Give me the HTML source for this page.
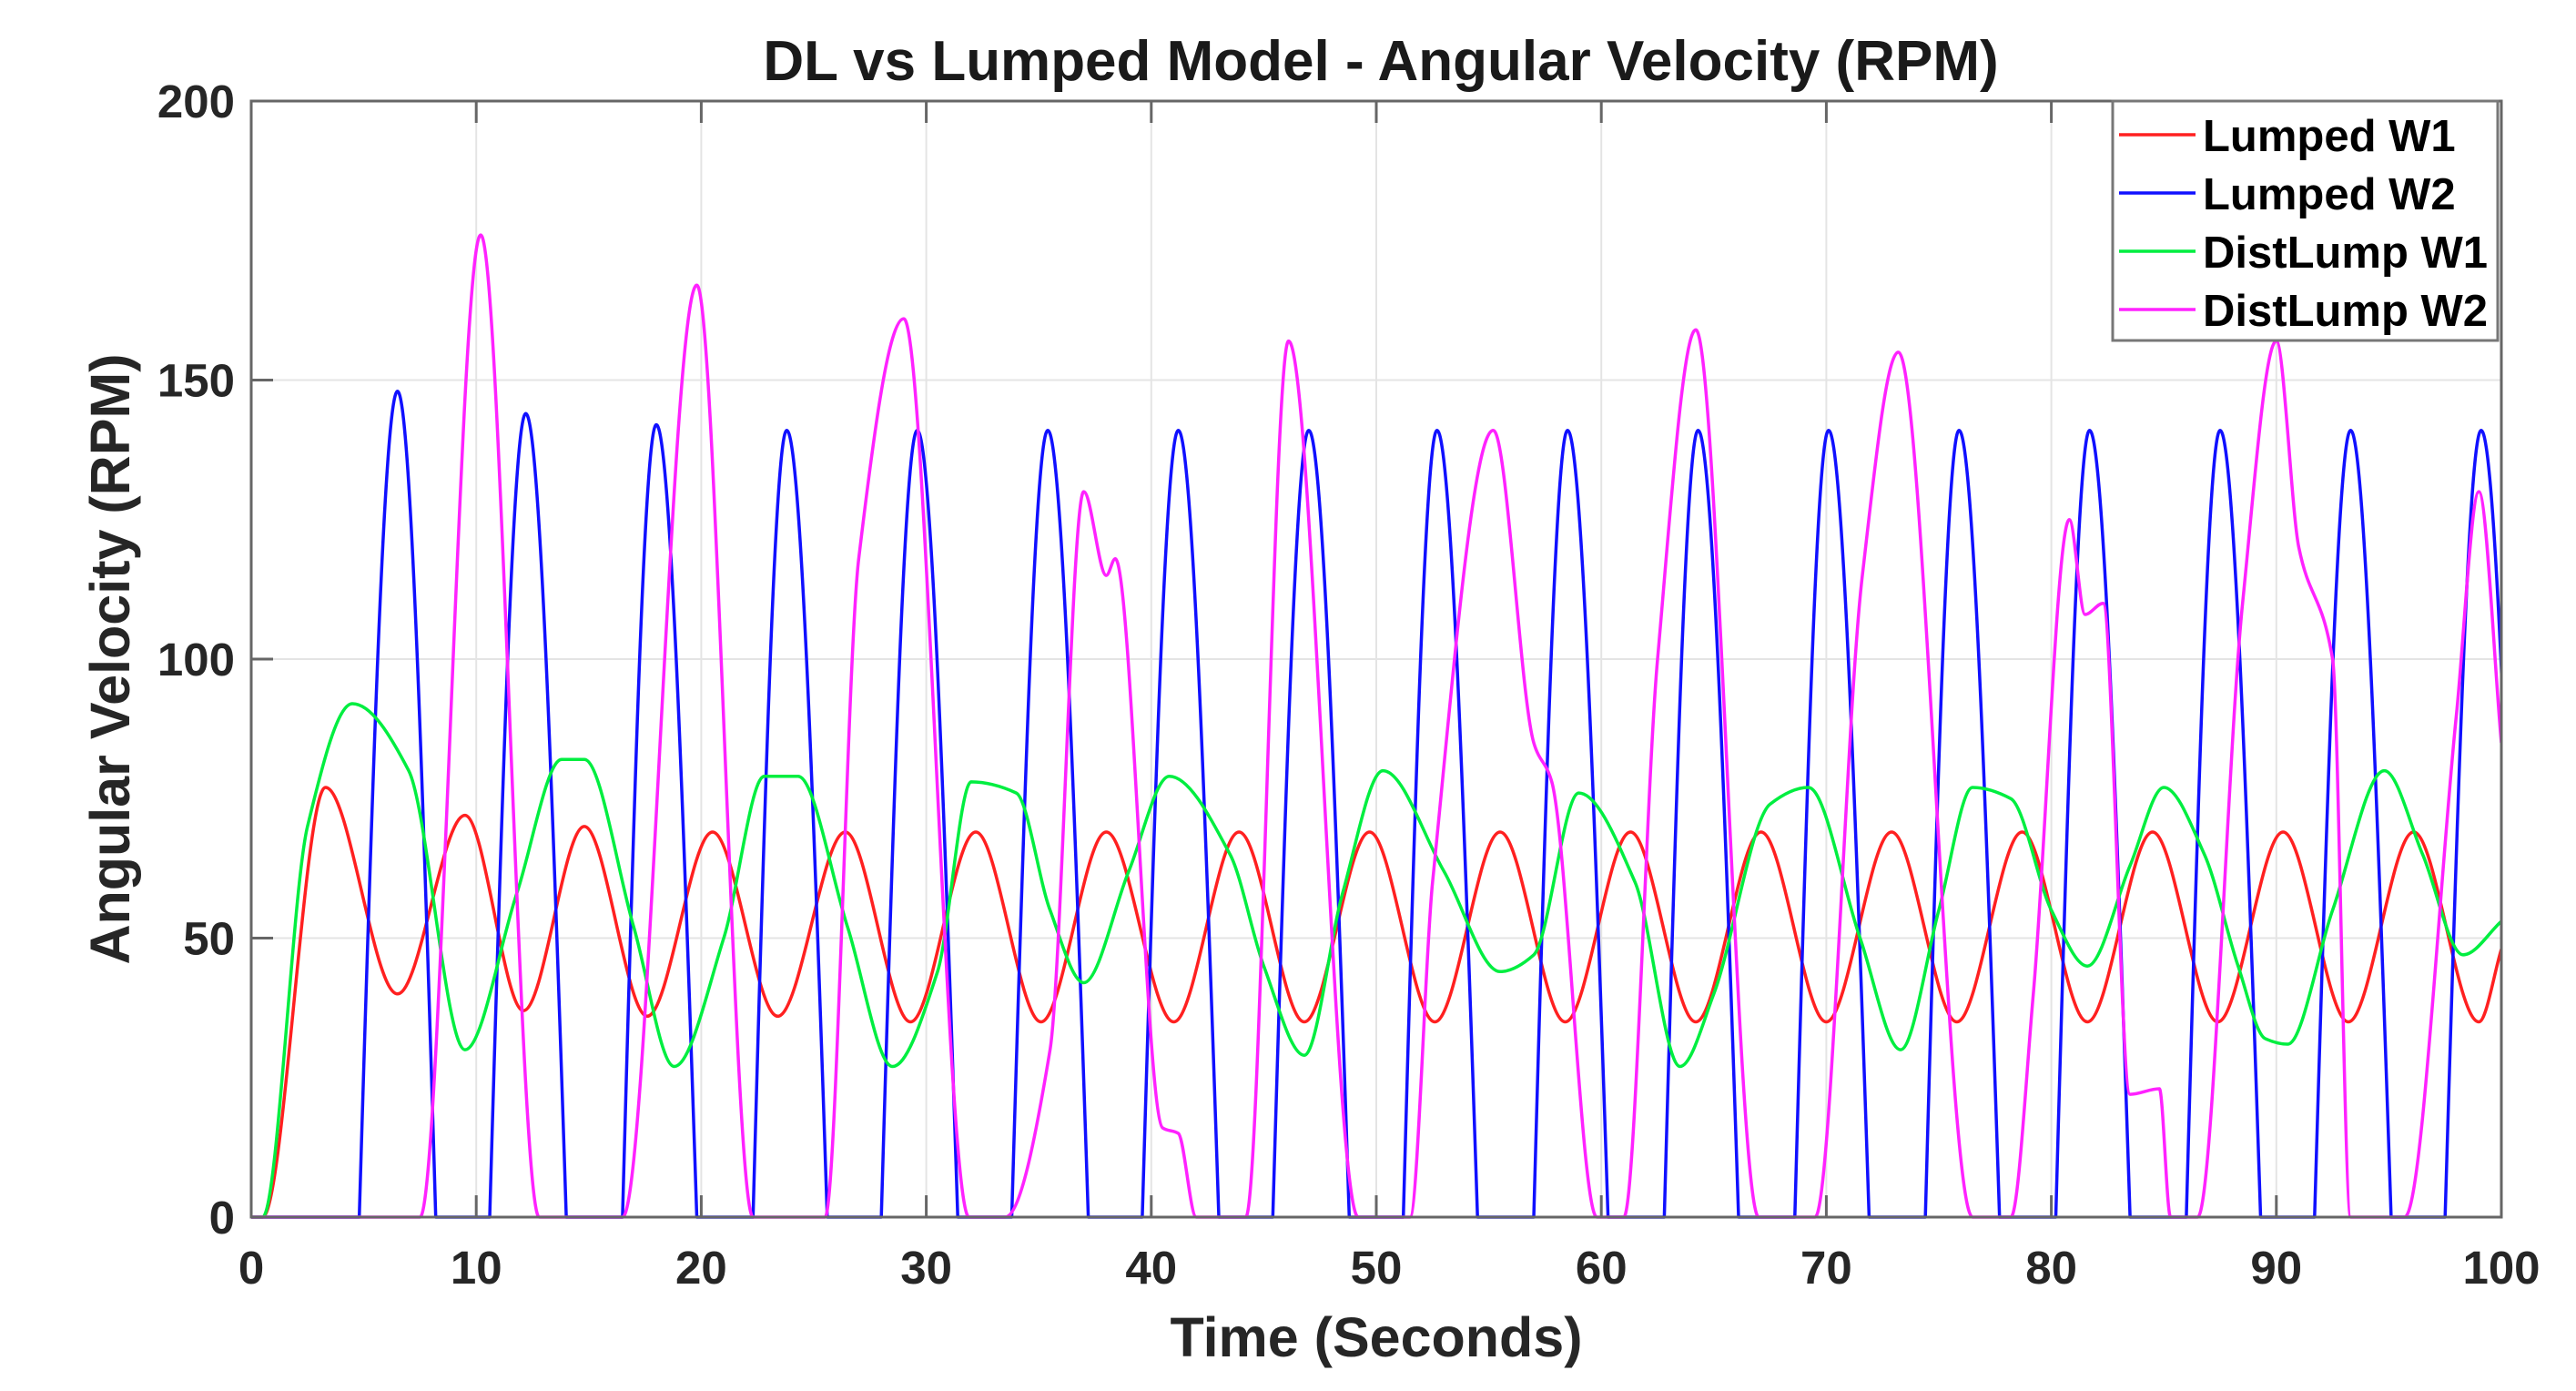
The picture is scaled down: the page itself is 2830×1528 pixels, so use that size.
<!DOCTYPE html>
<html>
<head>
<meta charset="utf-8">
<style>
  html,body{margin:0;padding:0;background:#fff;}
  svg{display:block;font-family:"Liberation Sans",Arial,sans-serif;}
</style>
</head>
<body>
<svg id="chart" width="2830" height="1528" viewBox="0 0 2830 1528" xmlns="http://www.w3.org/2000/svg">
  <rect x="0" y="0" width="2830" height="1528" fill="#fff"/>
  <g id="grid"></g>
  <g id="series"></g>
  <g id="axes"></g>
  <text x="1517" y="88" text-anchor="middle" font-size="62" font-weight="bold" fill="#1a1a1a">DL vs Lumped Model - Angular Velocity (RPM)</text>
  <text x="1512" y="1490" text-anchor="middle" font-size="61" font-weight="bold" fill="#262626">Time (Seconds)</text>
  <text transform="translate(142,724) rotate(-90)" text-anchor="middle" font-size="61" font-weight="bold" fill="#262626">Angular Velocity (RPM)</text>
  <g id="legend">
    <rect x="2321" y="111" width="423" height="263" fill="#fff" stroke="#777" stroke-width="3"/>
  </g>
</svg>
<script>
// ---- data ----
const xTicks = [0,10,20,30,40,50,60,70,80,90,100];
const yTicks = [0,50,100,150,200];
const seriesNames = ["Lumped W1","Lumped W2","DistLump W1","DistLump W2"];
const seriesColors = ["#ff2020","#1010ff","#00ee40","#ff22ff"];

// Lumped W1 (red) - extrema
const w1LumpT = [0,0.5,3.3,6.5,9.5,12.1,14.8,17.6,20.5,23.4,26.4,29.3,32.2,35.1,38.0,41.0,43.9,46.8,49.7,52.6,55.5,58.4,61.3,64.2,67.1,70.0,72.9,75.8,78.7,81.6,84.5,87.4,90.3,93.2,96.1,99.0,100];
const w1LumpV = [0,0,77,40,72,37,70,36,69,36,69,35,69,35,69,35,69,35,69,35,69,35,69,35,69,35,69,35,69,35,69,35,69,35,69,35,48];

// Lumped W2 (blue) - pulses
const w2PulseStart = [4.8,10.6,16.5,22.3,28.0,33.8,39.6,45.4,51.2,57.0,62.8,68.6,74.4,80.2,86.0,91.7,97.5];
const w2PulsePeakT = [6.5,12.2,18.0,23.8,29.6,35.4,41.2,47.0,52.7,58.5,64.3,70.1,75.9,81.7,87.5,93.3,99.1];
const w2PulsePeakV = [148,144,142,141,141,141,141,141,141,141,141,141,141,141,141,141,141];
const w2PulseEnd = [8.2,14.0,19.8,25.6,31.4,37.2,43.0,48.8,54.5,60.3,66.1,71.9,77.7,83.5,89.3,95.1,100.9];

// DistLump W1 (green)
const w1DistT = [0,0.5,2.5,4.5,7.0,9.5,11.8,13.8,14.8,17.0,18.8,21.0,22.8,24.3,26.5,28.5,30.5,32.0,34.0,35.5,37.0,39.0,40.8,43.5,45.0,46.8,48.5,50.3,53.0,55.5,57.0,59.0,61.5,63.5,65.0,67.5,69.2,71.5,73.3,75.0,76.5,78.2,80.0,81.6,83.5,85.0,86.8,88.3,89.5,90.5,92.5,94.8,96.5,98.3,100];
const w1DistV = [0,0,70,92,80,30,58,82,82,52,27,50,79,79,52,27,44,78,76,55,42,62,79,65,45,29,58,80,62,44,47,76,60,27,40,74,77,50,30,55,77,75,55,45,63,77,65,45,32,31,55,80,65,47,53];

// DistLump W2 (magenta)
const w2DistT = [0,7.5,10.2,12.8,16.5,19.8,22.3,25.5,27.0,29.0,31.9,33.5,35.5,37.0,38.0,38.4,40.5,41.2,42.0,44.2,46.1,49.2,51.5,52.5,55.2,57.0,57.8,59.8,61.0,62.5,64.2,67.0,69.5,71.6,73.2,76.5,78.2,79.2,80.8,81.5,82.3,83.5,84.8,85.3,86.5,88.5,90.0,91.0,92.5,93.3,95.7,98.0,99.0,100];
const w2DistV = [0,0,176,0,0,167,0,0,118,161,0,0,30,130,115,118,16,15,0,0,157,0,0,60,141,85,78,0,0,100,159,0,0,115,155,0,0,40,125,108,110,22,23,0,0,110,157,120,100,0,0,90,130,85];

// ---- layout ----
const L=276,R=2748,T=111,B=1337;
const xS = t => L + (t-0)/(100-0)*(R-L);
const yS = v => B - (v-0)/(200-0)*(B-T);
const NS="http://www.w3.org/2000/svg";
function mk(tag, attrs, parent){const e=document.createElementNS(NS,tag);for(const k in attrs)e.setAttribute(k,attrs[k]);parent.appendChild(e);return e;}

const grid=document.getElementById('grid');
const axes=document.getElementById('axes');
xTicks.forEach(t=>{
  const g=mk('line',{x1:xS(t),x2:xS(t),y1:T,y2:B,stroke:'#e4e4e4','stroke-width':2},grid);
  
  
  const tk=mk('line',{x1:xS(t),x2:xS(t),y1:B,y2:B-24,stroke:'#666','stroke-width':3},axes);
  
  
  const tk2=mk('line',{x1:xS(t),x2:xS(t),y1:T,y2:T+24,stroke:'#666','stroke-width':3},axes);
  
  
  const lb=mk('text',{x:xS(t),y:1410,'text-anchor':'middle','font-size':51,'font-weight':'bold',fill:'#262626'},axes);
  lb.textContent=t;
  
  
});
yTicks.forEach(v=>{
  const g=mk('line',{x1:L,x2:R,y1:yS(v),y2:yS(v),stroke:'#e4e4e4','stroke-width':2},grid);
  
  
  const tk=mk('line',{x1:L,x2:L+24,y1:yS(v),y2:yS(v),stroke:'#666','stroke-width':3},axes);
  
  
  const lb=mk('text',{x:258,y:yS(v)+18,'text-anchor':'end','font-size':51,'font-weight':'bold',fill:'#262626'},axes);
  lb.textContent=v;
  
  
});
const box=mk('rect',{x:L,y:T,width:R-L,height:B-T,fill:'none',stroke:'#666','stroke-width':3},axes);



// monotone cubic path
function monoPath(ts,vs){
  const n=ts.length, xs=ts.map(xS), ys=vs.map(yS);
  const d=[],m=new Array(n).fill(0);
  for(let i=0;i<n-1;i++) d.push((ys[i+1]-ys[i])/((xs[i+1]-xs[i])||1e-6));
  m[0]=d[0]; m[n-1]=d[n-2];
  for(let i=1;i<n-1;i++){ if(d[i-1]*d[i]<=0) m[i]=0; else m[i]=2/(1/d[i-1]+1/d[i]); }
  let p=`M${xs[0].toFixed(1)},${ys[0].toFixed(1)}`;
  for(let i=0;i<n-1;i++){
    const h=(xs[i+1]-xs[i])/3;
    p+=` C${(xs[i]+h).toFixed(1)},${(ys[i]+m[i]*h).toFixed(1)} ${(xs[i+1]-h).toFixed(1)},${(ys[i+1]-m[i+1]*h).toFixed(1)} ${xs[i+1].toFixed(1)},${ys[i+1].toFixed(1)}`;
  }
  return p;
}
// half-sine pulse path for blue
function pulsePath(){
  let p=`M${xS(0).toFixed(1)},${yS(0).toFixed(1)}`;
  w2PulsePeakT.forEach((tp,i)=>{
    const ts=w2PulseStart[i], te=w2PulseEnd[i], vp=w2PulsePeakV[i];
    const d1=tp-ts, d2=te-tp;
    p+=` L${xS(ts).toFixed(1)},${yS(0).toFixed(1)}`;
    p+=` C${xS(ts+d1/3).toFixed(1)},${yS(0.5236*vp).toFixed(1)} ${xS(tp-d1/3).toFixed(1)},${yS(vp).toFixed(1)} ${xS(tp).toFixed(1)},${yS(vp).toFixed(1)}`;
    p+=` C${xS(tp+d2/3).toFixed(1)},${yS(vp).toFixed(1)} ${xS(te-d2/3).toFixed(1)},${yS(0.5236*vp).toFixed(1)} ${xS(te).toFixed(1)},${yS(0).toFixed(1)}`;
  });
  return p;
}
const sg=document.getElementById('series');
const clip=mk('clipPath',{id:'pc'},mk('defs',{},sg));
mk('rect',{x:L,y:T-4,width:R-L,height:B-T+8},clip);

const paths=[[monoPath(w1LumpT,w1LumpV),'lumped-w1-line'],[pulsePath(),'lumped-w2-line'],[monoPath(w1DistT,w1DistV),'distlump-w1-line'],[monoPath(w2DistT,w2DistV),'distlump-w2-line']];
paths.forEach((s,i)=>{
  const p=mk('path',{d:s[0],fill:'none',stroke:seriesColors[i],'stroke-width':3.5,'clip-path':'url(#pc)','stroke-linejoin':'round'},sg);
  
  
});

// legend
const lg=document.getElementById('legend');
seriesNames.forEach((nm,i)=>{
  const y=148+i*64;
  const ln=mk('line',{x1:2328,x2:2412,y1:y,y2:y,stroke:seriesColors[i],'stroke-width':3.5},lg);
  
  
  const tx=mk('text',{x:2420,y:y+18,'font-size':49,'font-weight':'bold',fill:'#000'},lg);
  tx.textContent=nm;
  
  
});
</script>
</body>
</html>
